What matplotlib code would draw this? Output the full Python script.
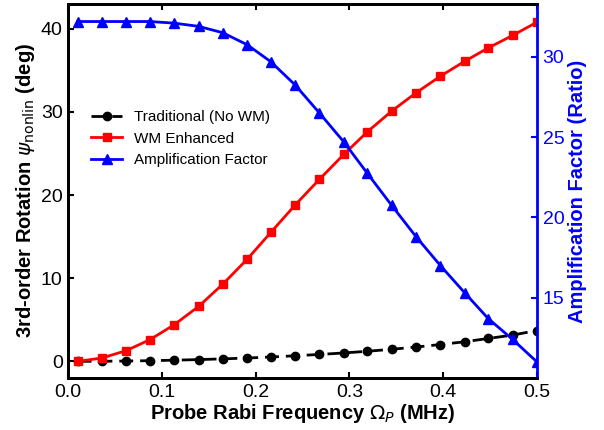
import matplotlib
matplotlib.use('Agg')
import matplotlib.pyplot as plt
from matplotlib.ticker import FormatStrFormatter

plt.rcParams['font.family'] = ['Liberation Sans', 'DejaVu Sans']
plt.rcParams['mathtext.fontset'] = 'dejavusans'

# Probe Rabi frequency (MHz)
omega_p = [0.010, 0.036, 0.062, 0.087, 0.113, 0.139, 0.165, 0.191, 0.216, 0.242,
           0.268, 0.294, 0.319, 0.345, 0.371, 0.397, 0.423, 0.448, 0.474, 0.500]

# 3rd-order rotation (deg)
traditional = [0.00, 0.01, 0.04, 0.08, 0.14, 0.21, 0.30, 0.40, 0.52, 0.67,
               0.83, 1.01, 1.21, 1.45, 1.72, 2.02, 2.36, 2.75, 3.16, 3.71]
wm_enhanced = [0.0, 0.4, 1.3, 2.6, 4.4, 6.6, 9.3, 12.3, 15.5, 18.8,
               21.9, 24.9, 27.6, 30.1, 32.3, 34.3, 36.1, 37.7, 39.2, 40.8]

# Amplification factor (ratio)
amplification = [32.2, 32.2, 32.2, 32.2, 32.1, 31.9, 31.5, 30.75, 29.7, 28.25,
                 26.5, 24.7, 22.75, 20.75, 18.8, 17.0, 15.3, 13.7, 12.4, 11.0]

fig, ax = plt.subplots(figsize=(6.04, 4.30), dpi=100)
fig.subplots_adjust(left=0.113, right=0.889, bottom=0.121, top=0.991)

l1, = ax.plot(omega_p, traditional, color='black', linestyle=(0, (5, 2.5)), linewidth=2,
              marker='o', markersize=6, label='Traditional (No WM)')
l2, = ax.plot(omega_p, wm_enhanced, color='red', linewidth=2,
              marker='s', markersize=6, label='WM Enhanced')

ax2 = ax.twinx()
l3, = ax2.plot(omega_p, amplification, color='blue', linewidth=2,
               marker='^', markersize=7, label='Amplification Factor')

ax.set_xlim(0, 0.5)
ax.set_ylim(-2, 43)
ax2.set_ylim(10, 33.3)

ax.set_xticks([0.0, 0.1, 0.2, 0.3, 0.4, 0.5])
ax.xaxis.set_major_formatter(FormatStrFormatter('%.1f'))
ax.set_yticks([0, 10, 20, 30, 40])
ax2.set_yticks([15, 20, 25, 30])

ax.tick_params(axis='both', direction='in', labelsize=14, width=1.5, length=4, top=True, pad=4)
ax2.tick_params(axis='y', direction='in', labelsize=14, width=1.5, length=4,
                colors='blue', pad=4)

for s in ['left', 'bottom', 'top']:
    ax.spines[s].set_linewidth(2)
ax2.spines['right'].set_color('blue')
ax2.spines['right'].set_linewidth(2)
for s in ['left', 'bottom', 'top']:
    ax2.spines[s].set_linewidth(2)

ax.set_xlabel(r'Probe Rabi Frequency $\Omega_P$ (MHz)', fontsize=14.5, fontweight='bold', labelpad=1)
ax.set_ylabel(r'3rd-order Rotation $\psi_{\rm nonlin}$ (deg)', fontsize=14.5, fontweight='bold', labelpad=3)
ax2.set_ylabel('Amplification Factor (Ratio)', fontsize=14.5, fontweight='bold', color='blue', labelpad=3)

ax2.legend(handles=[l1, l2, l3], loc='center left', bbox_to_anchor=(0.02, 0.64),
           frameon=False, fontsize=11, handlelength=2.0)

plt.savefig('out.png', dpi=100)
